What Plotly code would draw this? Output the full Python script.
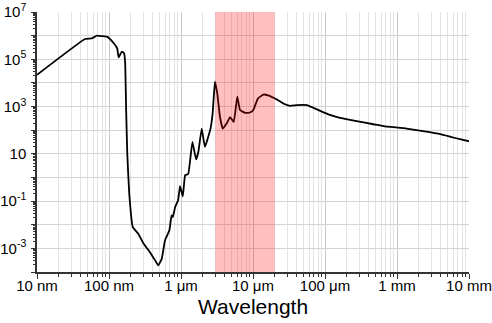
import plotly.graph_objects as go

# Wavelength (m) and absorption coefficient
wavelength = [1.0e-8, 4.65e-8, 5.75e-8, 6.8e-8, 7.9e-8, 9.5e-8, 1.15e-7, 1.30e-7, 1.36e-7,
              1.51e-7, 1.62e-7, 1.68e-7, 1.73e-7, 1.795e-7, 1.91e-7, 2.14e-7, 2.55e-7, 3.0e-7,
              3.7e-7, 4.37e-7, 4.84e-7, 5.4e-7, 6.0e-7, 6.9e-7, 7.4e-7, 7.7e-7, 8.3e-7, 9.1e-7,
              9.7e-7, 1.06e-6, 1.14e-6, 1.26e-6, 1.44e-6, 1.62e-6, 1.74e-6, 1.94e-6, 2.15e-6,
              2.57e-6, 2.75e-6, 2.96e-6, 3.19e-6, 3.48e-6, 3.8e-6, 4.3e-6, 4.8e-6, 5.4e-6,
              6.05e-6, 6.6e-6, 7.8e-6, 9.1e-6, 1.01e-5, 1.17e-5, 1.39e-5, 1.62e-5, 2.14e-5,
              2.63e-5, 3.27e-5, 4.07e-5, 5.6e-5, 7.7e-5, 1.17e-4, 1.62e-4, 2.75e-4, 4.7e-4,
              6.5e-4, 1.36e-3, 2.3e-3, 4.0e-3, 6.0e-3, 1.0e-2]
absorption = [2.2e4, 7.2e5, 7.6e5, 1.0e6, 9.5e5, 8.9e5, 5.0e5, 2.9e5, 1.2e5,
              2.1e5, 1.8e5, 6.3e4, 7.1e2, 10, 0.21, 7.9e-3, 4.2e-3, 1.66e-3,
              6.9e-4, 3.1e-4, 1.9e-4, 3.6e-4, 2.2e-3, 5.8e-3, 2.5e-2, 2.1e-2, 5.6e-2, 0.107,
              0.43, 0.16, 1.23, 1.4, 32, 5.8, 12, 117, 19.5,
              117, 510, 1.12e4, 3.6e3, 360, 117, 190, 360, 220,
              2.6e3, 710, 540, 560, 710, 2.2e3, 3.2e3, 3.0e3, 2.0e3,
              1.35e3, 1.07e3, 1.15e3, 1.15e3, 760, 440, 330, 240, 178,
              148, 117, 91, 68, 49, 34]

band = [3e-6, 2e-5]

x_tickvals = [1e-8, 1e-7, 1e-6, 1e-5, 1e-4, 1e-3, 1e-2]
x_ticktext = ["10 nm", "100 nm", "1 μm", "10 μm", "100 μm", "1 mm", "10 mm"]
y_tickvals = [1e-4, 1e-3, 1e-2, 1e-1, 1, 10, 1e2, 1e3, 1e4, 1e5, 1e6, 1e7]
y_ticktext = ["", "10<sup>-3</sup>", "", "10<sup>-1</sup>", "", "10", "", "10<sup>3</sup>", "",
              "10<sup>5</sup>", "", "10<sup>7</sup>"]

fig = go.Figure()
fig.add_trace(go.Scatter(x=wavelength, y=absorption, mode="lines",
                         line=dict(color="black", width=1.8, shape="spline", smoothing=0.3),
                         showlegend=False, hoverinfo="skip"))

fig.add_shape(type="rect", xref="x", yref="paper", x0=band[0], x1=band[1], y0=0, y1=1,
              fillcolor="rgba(255,0,0,0.25)", line=dict(width=0), layer="above")

fig.add_annotation(text="Wavelength", xref="paper", yref="paper", x=0.5, y=0,
                   xanchor="center", yanchor="top", yshift=-21, showarrow=False,
                   font=dict(size=21, color="black"))

fig.update_layout(
    width=492, height=323,
    margin=dict(l=37, r=23, t=12, b=51),
    paper_bgcolor="white", plot_bgcolor="white",
    font=dict(family="Liberation Sans, Arial, sans-serif", size=15, color="black"),
)
fig.update_xaxes(type="log", range=[-8, -2], tickvals=x_tickvals, ticktext=x_ticktext,
                 automargin=False,
                 showgrid=True, gridcolor="#c8c8c8", gridwidth=1,
                 showline=True, linecolor="#333", linewidth=1.5,
                 ticks="outside", ticklen=5, tickcolor="#333",
                 minor=dict(dtick="D1", showgrid=True, gridcolor="#e4e4e4", gridwidth=1,
                            ticks="outside", ticklen=3, tickcolor="#333"),
                 ticklabelstandoff=-6,
                 zeroline=False, mirror=False)
fig.update_yaxes(type="log", range=[-4, 7], tickvals=y_tickvals, ticktext=y_ticktext,
                 automargin=False,
                 showgrid=True, gridcolor="#d4d4d4", gridwidth=1,
                 showline=True, linecolor="#333", linewidth=1.5,
                 ticks="outside", ticklen=4, tickcolor="#333",
                 minor=dict(dtick="D1", showgrid=False, ticks="outside", ticklen=2, tickcolor="#333"),
                 zeroline=False, ticklabelstandoff=2)

fig.write_html("out.html")
